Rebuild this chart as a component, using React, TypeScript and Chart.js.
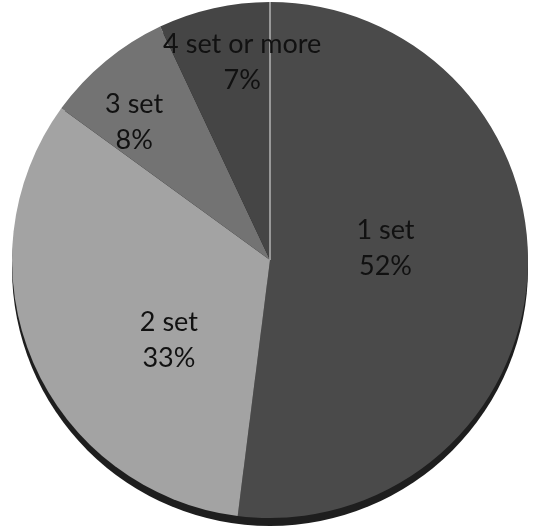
import { useEffect, useRef } from "react";
import { Chart, registerables } from "chart.js";

Chart.register(...registerables);

// Share of respondents by number of sets owned
const categories = ["1 set", "2 set", "3 set", "4 set or more"];
const shares = [52, 33, 8, 7];
const sliceColors = ["#4a4a4a", "#a3a3a3", "#737373", "#454545"];

// Label anchor for each slice: fraction of the radius, and a turn (degrees) from the slice's mid-angle
const labelRadius = [0.45, 0.5, 0.75, 0.775];
const labelTurn = [-9.5, -15, -5, 4.6];

const FONT = "27px Lato, 'Open Sans', sans-serif";

const pieDecor = {
  id: "pieDecor",
  beforeDatasetsDraw(chart: any) {
    const arc = chart.getDatasetMeta(0).data[0];
    if (!arc) return;
    const { x, y, outerRadius } = arc as any;
    const ctx = chart.ctx as CanvasRenderingContext2D;
    ctx.save();
    ctx.fillStyle = "#1e1e1e";
    ctx.beginPath();
    ctx.arc(x, y + 8, outerRadius, 0, Math.PI * 2);
    ctx.fill();
    ctx.restore();
  },
  afterDatasetsDraw(chart: any) {
    const arcs = chart.getDatasetMeta(0).data;
    if (!arcs.length) return;
    const ctx = chart.ctx as CanvasRenderingContext2D;
    const first = arcs[0] as any;
    const cx = first.x;
    const cy = first.y;
    const r = first.outerRadius;

    // light seam at the start of the first slice
    ctx.save();
    ctx.strokeStyle = "#b4b4b4";
    ctx.lineWidth = 1.5;
    ctx.beginPath();
    ctx.moveTo(cx, cy);
    ctx.lineTo(cx + r * Math.cos(first.startAngle), cy + r * Math.sin(first.startAngle));
    ctx.stroke();

    ctx.fillStyle = "#111111";
    ctx.font = FONT;
    ctx.textAlign = "center";
    ctx.textBaseline = "middle";
    arcs.forEach((el: any, i: number) => {
      const mid = (el.startAngle + el.endAngle) / 2 + (labelTurn[i] * Math.PI) / 180;
      const d = r * labelRadius[i];
      const px = cx + d * Math.cos(mid);
      const py = cy + d * Math.sin(mid);
      ctx.fillText(categories[i], px, py - 18);
      ctx.fillText(`${shares[i]}%`, px, py + 18);
    });
    ctx.restore();
  },
};

export default function App() {
  const canvasRef = useRef<HTMLCanvasElement | null>(null);

  useEffect(() => {
    const canvas = canvasRef.current;
    if (!canvas) return;
    const chart = new Chart(canvas, {
      type: "pie",
      data: {
        labels: categories,
        datasets: [
          {
            data: shares,
            backgroundColor: sliceColors,
            borderWidth: 0,
            hoverOffset: 0,
          },
        ],
      },
      options: {
        responsive: false,
        animation: false,
        events: [],
        layout: { padding: { left: 12, right: 6, top: 2, bottom: 8 } },
        plugins: {
          legend: { display: false },
          tooltip: { enabled: false },
        },
      },
      plugins: [pieDecor],
    });
    return () => chart.destroy();
  }, []);

  return (
    <div style={{ position: "fixed", left: 0, top: 0, width: 534, height: 526, background: "#ffffff" }}>
      <canvas ref={canvasRef} width={534} height={526} style={{ display: "block" }} />
    </div>
  );
}
